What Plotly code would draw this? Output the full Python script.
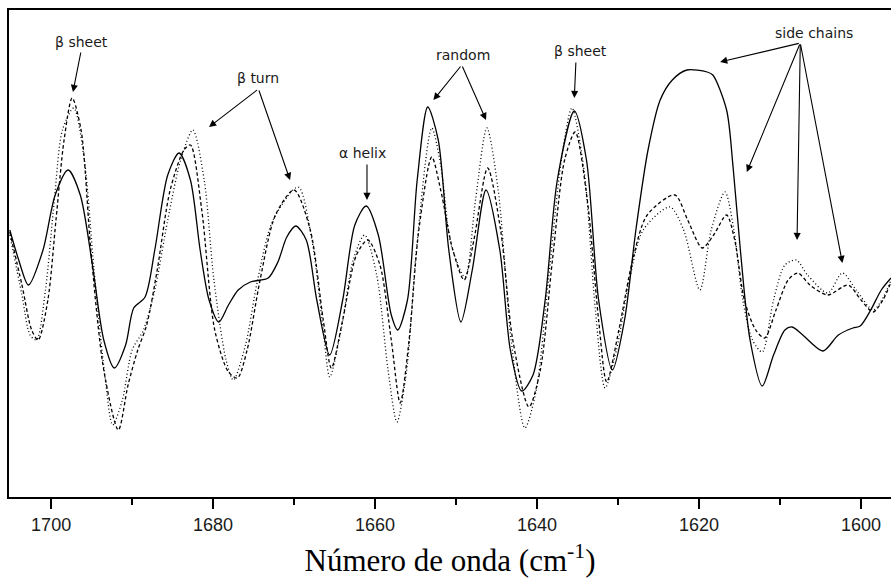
import plotly.graph_objects as go

# Second-derivative amide I spectra: three samples (solid, dashed, dotted)
wn_solid = [1705.1, 1704.0, 1702.8, 1701.0, 1699.5, 1697.9, 1696.4, 1694.9, 1693.5, 1692.2,
            1690.8, 1689.8, 1688.4, 1687.2, 1685.6, 1684.2, 1682.8, 1681.6, 1680.5, 1679.3,
            1678.1, 1676.9, 1675.4, 1673.2, 1672.0, 1670.9, 1669.8, 1668.5, 1667.2, 1665.6,
            1664.0, 1662.5, 1661.1, 1659.6, 1658.0, 1657.2, 1656.0, 1654.8, 1653.5, 1652.2,
            1650.9, 1649.4, 1648.0, 1646.3, 1644.6, 1643.3, 1641.9, 1640.5, 1639.0, 1637.5,
            1635.4, 1633.9, 1632.4, 1630.7, 1629.2, 1627.8, 1626.3, 1624.8, 1623.3, 1621.5,
            1619.0, 1618.3, 1616.6, 1615.8, 1614.9, 1613.7, 1612.2, 1610.8, 1609.4, 1608.5,
            1607.2, 1604.7, 1602.8, 1601.0, 1600.1, 1598.8, 1597.5, 1596.3]
int_solid = [268, 238, 213, 248, 303, 328, 303, 233, 158, 130,
             153, 190, 201, 248, 323, 345, 318, 248, 198, 176,
             193, 208, 216, 220, 236, 261, 272, 258, 198, 143,
             198, 273, 292, 263, 183, 168, 198, 318, 391, 358,
             248, 176, 228, 308, 248, 148, 107, 123, 198, 318,
             387, 338, 198, 128, 178, 268, 348, 398, 418, 428,
             426, 423, 388, 331, 248, 158, 112, 143, 168, 171,
             163, 147, 163, 170, 172, 188, 208, 220]

wn_dash = [1705.1, 1703.6, 1702.4, 1701.6, 1700.4, 1699.4, 1698.4, 1697.4, 1696.3, 1695.1,
           1693.5, 1691.7, 1690.5, 1689.3, 1688.2, 1686.9, 1685.3, 1683.6, 1682.8, 1681.4,
           1679.8, 1678.1, 1677.0, 1675.8, 1674.2, 1672.3, 1670.0, 1668.0, 1666.4, 1665.4,
           1664.0, 1662.3, 1660.9, 1659.4, 1658.0, 1656.9, 1655.8, 1654.6, 1653.0, 1651.9,
           1650.4, 1649.0, 1647.8, 1646.1, 1644.5, 1643.0, 1641.0, 1639.6, 1638.1, 1636.6,
           1635.3, 1633.8, 1632.4, 1631.4, 1629.9, 1628.2, 1626.4, 1623.0, 1621.4, 1619.6,
           1618.2, 1616.6, 1615.6, 1614.4, 1613.0, 1611.9, 1610.5, 1609.0, 1607.8, 1606.3,
           1604.1, 1601.6, 1600.0, 1598.5, 1597.3, 1596.3]
int_dash = [266, 213, 168, 158, 198, 278, 358, 400, 368, 248,
            128, 68, 113, 148, 173, 228, 308, 348, 353, 288,
            168, 126, 120, 148, 218, 283, 308, 268, 178, 130,
            178, 243, 258, 233, 158, 95, 158, 268, 341, 308,
            248, 218, 258, 330, 268, 158, 91, 128, 238, 338,
            366, 298, 178, 116, 168, 238, 283, 303, 278, 250,
            263, 283, 258, 198, 168, 160, 188, 218, 225, 213,
            203, 213, 198, 186, 198, 216]

wn_dot = [1705.1, 1703.6, 1702.6, 1701.8, 1700.7, 1699.6, 1698.6, 1697.2, 1695.9, 1694.7,
          1693.3, 1692.4, 1691.2, 1690.0, 1688.6, 1687.2, 1685.6, 1684.0, 1682.5, 1681.1,
          1679.9, 1678.4, 1677.5, 1676.0, 1674.5, 1672.6, 1669.5, 1667.8, 1666.4, 1665.6,
          1664.2, 1662.7, 1661.3, 1659.8, 1658.4, 1657.3, 1656.1, 1654.9, 1653.0, 1651.9,
          1650.6, 1648.9, 1647.6, 1646.2, 1644.8, 1643.2, 1641.5, 1640.1, 1638.6, 1637.0,
          1635.7, 1634.2, 1632.8, 1631.6, 1630.2, 1628.6, 1626.9, 1623.6, 1621.9, 1619.9,
          1618.5, 1616.8, 1615.7, 1614.6, 1613.4, 1612.2, 1610.8, 1609.4, 1608.0, 1606.6,
          1604.1, 1602.3, 1600.6, 1598.5, 1597.3, 1596.3]
int_dot = [263, 203, 163, 158, 208, 298, 368, 390, 338, 228,
           118, 73, 98, 148, 168, 208, 278, 338, 368, 318,
           218, 138, 118, 153, 218, 278, 311, 258, 168, 121,
           168, 238, 263, 223, 128, 76, 128, 248, 370, 333,
           253, 221, 298, 370, 308, 158, 70, 108, 218, 338,
           390, 328, 188, 110, 148, 218, 268, 291, 268, 208,
           268, 306, 268, 198, 158, 146, 198, 233, 238, 223,
           205, 225, 208, 188, 200, 218]

# Band assignments: label position and the points each arrow indicates
band_labels = ["β sheet", "β turn", "α helix", "random", "β sheet", "side chains"]
label_pos = [(1696.3, 456), (1674.4, 420), (1661.6, 345), (1649.1, 443), (1634.6, 447), (1605.8, 465)]
arrow_tail = [(1696.3, 447), (1674.4, 409), (1661.0, 335), (1649.3, 433), (1635.2, 437), (1607.5, 455)]
arrow_heads = [
    [(1697.3, 406)],
    [(1680.5, 371), (1670.5, 318)],
    [(1661.0, 298)],
    [(1652.8, 398), (1646.3, 378)],
    [(1635.4, 400)],
    [(1617.4, 436), (1614.1, 326), (1607.9, 258), (1602.3, 235)],
]

fig = go.Figure()
line_common = dict(color="black", width=1.3, shape="spline", smoothing=0.8)
fig.add_trace(go.Scatter(x=wn_dot, y=int_dot, mode="lines",
                         line=dict(dash="1px,2.5px", **line_common)))
fig.add_trace(go.Scatter(x=wn_dash, y=int_dash, mode="lines",
                         line=dict(dash="3.5px,2.5px", **line_common)))
fig.add_trace(go.Scatter(x=wn_solid, y=int_solid, mode="lines",
                         line=dict(**line_common)))

annotations = []
for text, (tx, ty), (ax, ay), heads in zip(band_labels, label_pos, arrow_tail, arrow_heads):
    annotations.append(dict(x=tx, y=ty, xref="x", yref="y", text=text, showarrow=False,
                            font=dict(family="DejaVu Sans", size=14, color="#1a1a1a")))
    for hx, hy in heads:
        annotations.append(dict(x=hx, y=hy, ax=ax, ay=ay, xref="x", yref="y",
                                axref="x", ayref="y", text="", showarrow=True,
                                arrowhead=2, arrowsize=1.3, arrowwidth=1.1,
                                arrowcolor="black", standoff=0, startstandoff=0))

fig.update_layout(
    width=891, height=578,
    margin=dict(l=9, r=0, t=10, b=81),
    paper_bgcolor="white", plot_bgcolor="white",
    showlegend=False,
    annotations=annotations,
    xaxis=dict(
        range=[1705.2, 1596.3],
        tickmode="linear", tick0=1600, dtick=20,
        ticks="outside", ticklen=10, tickwidth=2, tickcolor="black",
        minor=dict(dtick=10, tick0=1600, ticks="outside", ticklen=6, tickwidth=2, tickcolor="black"),
        showline=True, linewidth=2, linecolor="black", mirror=True,
        showgrid=False, zeroline=False,
        tickfont=dict(family="Liberation Sans", size=18, color="#1a1a1a"),
        title=dict(text="Número de onda (cm<sup>-1</sup>)", standoff=20,
                   font=dict(family="Liberation Serif", size=31, color="black")),
    ),
    yaxis=dict(
        range=[1, 488],
        showline=True, linewidth=2, linecolor="black",
        showticklabels=False, ticks="", showgrid=False, zeroline=False,
    ),
)

fig.write_html("out.html")
